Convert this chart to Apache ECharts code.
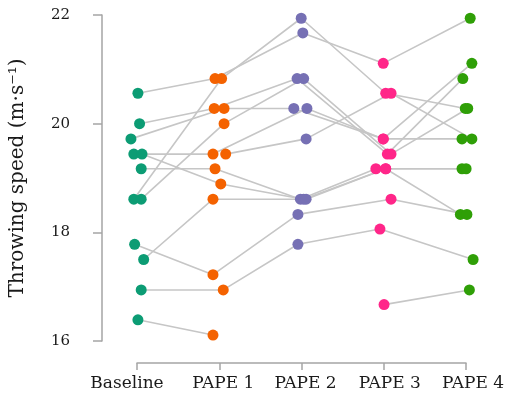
<!DOCTYPE html>
<html><head><meta charset="utf-8">
<script src="https://cdn.jsdelivr.net/npm/echarts@6/dist/echarts.min.js"></script>
<style>html,body{margin:0;padding:0;background:#fff}#c{width:510px;height:403px}</style>
</head><body><div id="c"></div>
<script>
const categories = ['Baseline', 'PAPE 1', 'PAPE 2', 'PAPE 3', 'PAPE 4'];
const yTicks = [16, 18, 20, 22];
// one entry per participant (m/s); null = no value
const baseline = [20.56, 18.61, 20.00, 19.72, 18.61, 19.44, null,  19.17, 19.44, 17.50, 17.78, 16.94, 16.39, null];
const pape1    = [20.83, 20.83, 20.28, 20.28, 20.00, 19.44, 19.44, 19.17, 18.89, 18.61, 17.22, 16.94, 16.11, null];
const pape2    = [21.67, 21.94, 20.83, 20.28, 20.83, 20.28, 19.72, 18.61, 18.61, 18.61, 18.33, 17.78, null,  null];
const pape3    = [21.11, 20.56, 19.44, 19.72, 19.44, 19.72, 20.56, 19.17, 19.17, 19.17, 18.61, 18.06, null,  16.67];
const pape4    = [21.94, 20.28, 20.83, 21.11, 20.28, 19.72, 19.72, 19.17, 19.17, 18.33, 18.33, 17.50, null,  16.94];
// horizontal jitter of each point, in category units
const jitBaseline = [0.00, -0.05, 0.02, -0.085, 0.04, -0.05, 0, 0.04, 0.05, 0.07, -0.04, 0.04, 0.00, 0];
const jitPape1    = [-0.06, 0.02, -0.07, 0.05, 0.05, -0.085, 0.07, -0.06, 0.01, -0.085, -0.085, 0.04, -0.085, 0];
const jitPape2    = [0.01, -0.01, -0.06, -0.10, 0.02, 0.06, 0.05, -0.02, 0.02, 0.05, -0.05, -0.05, 0, 0];
const jitPape3    = [-0.01, 0.02, 0.04, -0.01, 0.085, -0.01, 0.085, -0.10, 0.02, 0.02, 0.085, -0.05, 0, 0.00];
const jitPape4    = [0.05, -0.01, -0.04, 0.07, 0.02, -0.05, 0.07, -0.05, 0.00, -0.07, 0.01, 0.085, 0, 0.04];
const colors = ['#0c9c74', '#f46200', '#7670b4', '#ff2689', '#2f9f07'];
// label nudges (px, + = right) to match the original typesetting
const labelNudge = [-10, 4, 4, 6, 7];

const conds = [baseline, pape1, pape2, pape3, pape4];
const jits = [jitBaseline, jitPape1, jitPape2, jitPape3, jitPape4];
const font = 'DejaVu Serif';
const series = [];
for (let p = 0; p < baseline.length; p++) {
  const d = [];
  conds.forEach((c, i) => { if (c[p] != null) d.push([i + jits[i][p], c[p]]); });
  series.push({ type: 'line', data: d, symbol: 'none', silent: true, z: 1,
    lineStyle: { color: '#c6c6c6', width: 1.6 } });
}
conds.forEach((c, i) => {
  const d = [];
  c.forEach((v, p) => { if (v != null) d.push([i + jits[i][p], v]); });
  series.push({ type: 'scatter', data: d, symbolSize: 11, z: 3,
    itemStyle: { color: colors[i], opacity: 1 } });
});

const catData = categories.map((c, i) => ({
  value: c,
  textStyle: { padding: labelNudge[i] >= 0 ? [0, 0, 0, 2 * labelNudge[i]] : [0, -2 * labelNudge[i], 0, 0] }
}));

const chart = echarts.init(document.getElementById('c'));
chart.setOption({
  animation: false,
  grid: [
    { left: 101, right: 5, top: 15, bottom: 62 },
    { left: 137, width: 329, top: 362, height: 1 }
  ],
  xAxis: [
    { type: 'value', gridIndex: 0, min: -0.4377, max: 4.474, show: false },
    { type: 'category', gridIndex: 1, data: catData, boundaryGap: false,
      axisLine: { lineStyle: { color: '#a5a5a5', width: 1.5 } },
      axisTick: { length: 7, lineStyle: { color: '#a5a5a5', width: 1.5 } },
      axisLabel: { margin: 12, fontSize: 17, color: '#1a1a1a', fontFamily: font, interval: 0 } }
  ],
  yAxis: [
    { type: 'value', gridIndex: 0, min: yTicks[0], max: yTicks[yTicks.length - 1], interval: 2,
      axisLine: { show: true, onZero: false, lineStyle: { color: '#a5a5a5', width: 1.5 } },
      axisTick: { show: true, length: 9, lineStyle: { color: '#a5a5a5', width: 1.5 } },
      splitLine: { show: false },
      axisLabel: { margin: 32, fontSize: 15, color: '#1a1a1a', fontFamily: font },
      name: 'Throwing speed (m·s⁻¹)', nameLocation: 'middle', nameGap: 74, nameRotate: 90,
      nameTextStyle: { fontSize: 20, color: '#1a1a1a', fontFamily: font } },
    { type: 'value', gridIndex: 1, show: false }
  ],
  series: series
});
</script></body></html>
